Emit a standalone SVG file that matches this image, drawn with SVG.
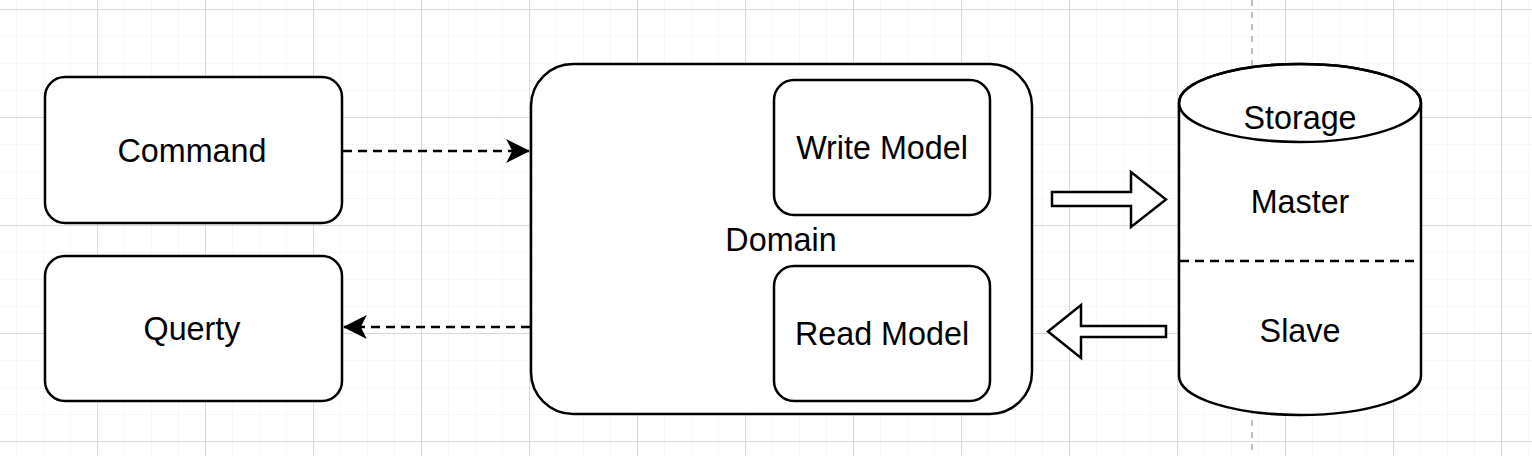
<svg xmlns="http://www.w3.org/2000/svg" width="1532" height="456" viewBox="0 0 1532 456">
<defs>
<pattern id="minor" x="16" y="9" width="27" height="27" patternUnits="userSpaceOnUse">
<path d="M0 0H27M0 0V27" fill="none" stroke="#f0f0f0" stroke-width="1"/>
</pattern>
<pattern id="major" x="-11" y="9" width="108" height="108" patternUnits="userSpaceOnUse">
<path d="M0 0.5H108M0.5 0V108" fill="none" stroke="#d8d8d8" stroke-width="1"/>
</pattern>
<marker id="ah" viewBox="0 0 20 20" refX="19" refY="10" markerWidth="24" markerHeight="24" markerUnits="userSpaceOnUse" orient="auto">
<path d="M0 0L20 10L0 20L5 10Z" fill="#000"/>
</marker>
</defs>
<style>
.box{fill:#fff;stroke:#000;stroke-width:2.5}
.lbl{font-family:"Liberation Sans",Arial,sans-serif;font-size:32.3px;fill:#000;text-anchor:middle}
.dash{fill:none;stroke:#000;stroke-width:2.5;stroke-dasharray:9 6}
</style>
<rect width="1532" height="456" fill="#fff"/>
<rect width="1532" height="456" fill="url(#minor)"/>
<rect width="1532" height="456" fill="url(#major)"/>
<line x1="1252" y1="0" x2="1252" y2="456" stroke="#c0c0c0" stroke-width="2" stroke-dasharray="6 6"/>

<g id="command">
<rect class="box" x="45" y="77" width="297" height="146" rx="20"/>
<text class="lbl" x="192" y="162">Command</text>
</g>
<g id="querty">
<rect class="box" x="45" y="256" width="297" height="145" rx="20"/>
<text class="lbl" x="192" y="340">Querty</text>
</g>
<g id="domain">
<rect class="box" x="531" y="64" width="501" height="350" rx="42"/>
<text class="lbl" x="781" y="251">Domain</text>
</g>
<g id="write-model">
<rect class="box" x="774" y="80" width="216" height="135" rx="20"/>
<text class="lbl" x="882" y="159">Write Model</text>
</g>
<g id="read-model">
<rect class="box" x="774" y="266" width="216" height="135" rx="20"/>
<text class="lbl" x="882" y="345">Read Model</text>
</g>
<g id="storage">
<path class="box" d="M1179 103V376A121 39 0 0 0 1421 376V103A121 39 0 0 0 1179 103Z"/>
<ellipse cx="1300" cy="103" rx="121" ry="39" fill="none" stroke="#000" stroke-width="2.5"/>
<line class="dash" x1="1180" y1="261" x2="1420" y2="261"/>
<text class="lbl" x="1300" y="129">Storage</text>
<text class="lbl" x="1300" y="213">Master</text>
<text class="lbl" x="1300" y="342">Slave</text>
</g>
<g id="connectors">
<line class="dash" x1="343" y1="151" x2="529" y2="151" marker-end="url(#ah)"/>
<line class="dash" x1="530" y1="327" x2="344" y2="327" marker-end="url(#ah)"/>
<path class="box" d="M1052 192H1131V172L1166 199.5L1131 227V206H1052Z"/>
<path class="box" d="M1166 326H1081V305L1048 331.5L1081 358V337H1166Z"/>
</g>
</svg>
